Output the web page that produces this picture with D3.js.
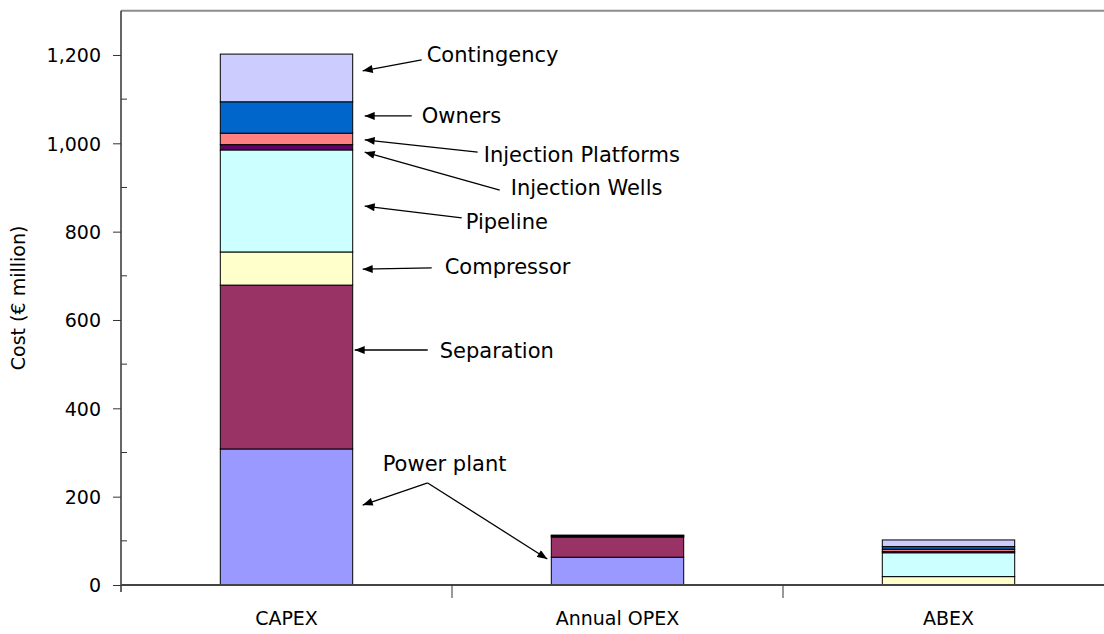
<!DOCTYPE html>
<html>
<head>
<meta charset="utf-8">
<script src="https://cdn.jsdelivr.net/npm/d3@7"></script>
<style>
  body { margin: 0; background: #fff; }
  text { font-family: "DejaVu Sans", Verdana, sans-serif; fill: #000; }
</style>
</head>
<body>
<div id="chart"></div>
<script>
// categories and stacked series (EUR million)
var categories = ["CAPEX", "Annual OPEX", "ABEX"];
var seriesNames = ["Power plant", "Separation", "Compressor", "Pipeline",
                   "Injection Wells", "Injection Platforms", "Owners", "Contingency"];
var powerPlant         = [308, 63, 0];
var separation         = [371, 45, 0];
var compressor         = [75, 2, 19];
var pipeline           = [231, 1, 54];
var injectionWells     = [12, 1, 3];
var injectionPlatforms = [26, 1, 5];
var owners             = [71, 0, 6];
var contingency        = [108, 0, 15];
var yTicks = [0, 200, 400, 600, 800, 1000, 1200];
var yMinorTicks = [100, 300, 500, 700, 900, 1100];

var colors = ["#9999ff", "#993366", "#ffffcc", "#ccffff",
              "#660066", "#ff8080", "#0066cc", "#ccccff"];

// annotations: label value, where the line leaves the label, where the arrow points
var notes = [
  {text: "Contingency",         label: 1202, from: 1189, to: 1164, lx: 74, fx: 69, tx: 10},
  {text: "Owners",              label: 1062, from: 1062, to: 1062, lx: 69, fx: 59, tx: 12},
  {text: "Injection Platforms", label: 974,  from: 980,  to: 1008, lx: 131, fx: 125, tx: 12},
  {text: "Injection Wells",     label: 899,  from: 894,  to: 980,  lx: 158, fx: 147, tx: 12},
  {text: "Pipeline",            label: 824,  from: 831,  to: 858,  lx: 113, fx: 109, tx: 12},
  {text: "Compressor",          label: 722,  from: 718,  to: 715,  lx: 92,  fx: 79,  tx: 10},
  {text: "Separation",          label: 532,  from: 532,  to: 532,  lx: 87,  fx: 75,  tx: 2}
];

var width = 1104, height = 634,
    margin = {top: 10.8, left: 121, bottom: 49},
    step = 331;

var rows = categories.map(function (c, i) {
  return {
    cat: c,
    "Power plant": powerPlant[i], "Separation": separation[i], "Compressor": compressor[i],
    "Pipeline": pipeline[i], "Injection Wells": injectionWells[i],
    "Injection Platforms": injectionPlatforms[i], "Owners": owners[i], "Contingency": contingency[i]
  };
});

var svg = d3.select("#chart").append("svg")
    .attr("width", width)
    .attr("height", height);

var x = d3.scaleBand().domain(categories)
    .range([margin.left, margin.left + step * categories.length])
    .paddingInner(0.6).paddingOuter(0.3);
var y = d3.scaleLinear().domain([0, 1300]).range([height - margin.bottom, margin.top]);

var stack = d3.stack().keys(seriesNames);
var layers = stack(rows);

svg.append("defs").append("marker")
    .attr("id", "arrow")
    .attr("viewBox", "0 0 10 8")
    .attr("refX", 10).attr("refY", 4)
    .attr("markerWidth", 11).attr("markerHeight", 8)
    .attr("markerUnits", "userSpaceOnUse")
    .attr("orient", "auto")
  .append("path")
    .attr("d", "M0,0 L10,4 L0,8 Z")
    .attr("fill", "#000");

// top frame line
svg.append("line")
    .attr("x1", margin.left).attr("x2", width)
    .attr("y1", y(1300)).attr("y2", y(1300))
    .attr("stroke", "#8c8c8c").attr("stroke-width", 2);

// bars
svg.append("g").selectAll("g")
  .data(layers)
  .enter().append("g")
    .attr("fill", function (d, i) { return colors[i]; })
  .selectAll("rect")
  .data(function (d) { return d; })
  .enter().append("rect")
    .attr("x", function (d) { return x(d.data.cat); })
    .attr("width", x.bandwidth())
    .attr("y", function (d) { return y(d[1]); })
    .attr("height", function (d) { return y(d[0]) - y(d[1]); })
    .attr("stroke", function (d) { return d[1] - d[0] > 0 ? "#000" : "none"; })
    .attr("stroke-width", 1);

// y axis
var yAxis = d3.axisLeft(y).tickValues(yTicks).tickSize(8).tickPadding(12)
    .tickFormat(d3.format(","));
var gy = svg.append("g")
    .attr("transform", "translate(" + margin.left + ",0)")
    .call(yAxis);
gy.select(".domain").remove();
gy.selectAll("line").attr("stroke", "#333");
gy.selectAll("text").style("font-size", "19px").attr("dy", "0.36em");

svg.append("g").selectAll("line")
  .data(yMinorTicks)
  .enter().append("line")
    .attr("x1", margin.left).attr("x2", margin.left + 6)
    .attr("y1", function (d) { return y(d); })
    .attr("y2", function (d) { return y(d); })
    .attr("stroke", "#333");

svg.append("line")
    .attr("x1", margin.left).attr("x2", margin.left)
    .attr("y1", y(1300)).attr("y2", y(0) + 7)
    .attr("stroke", "#333").attr("stroke-width", 1.5);

// x axis
svg.append("line")
    .attr("x1", margin.left).attr("x2", width)
    .attr("y1", y(0)).attr("y2", y(0))
    .attr("stroke", "#444").attr("stroke-width", 2);

svg.append("g").selectAll("line")
  .data(d3.range(1, categories.length + 1))
  .enter().append("line")
    .attr("x1", function (i) { return margin.left + i * step; })
    .attr("x2", function (i) { return margin.left + i * step; })
    .attr("y1", y(0)).attr("y2", y(0) + 13)
    .attr("stroke", "#333");

svg.append("g").selectAll("text")
  .data(categories)
  .enter().append("text")
    .attr("x", function (d) { return x(d) + x.bandwidth() / 2; })
    .attr("y", y(0) + 33)
    .attr("dy", "0.36em")
    .attr("text-anchor", "middle")
    .style("font-size", "19px")
    .text(function (d) { return d; });

// y title
svg.append("text")
    .attr("transform", "translate(25," + y(650) + ") rotate(-90)")
    .attr("text-anchor", "middle")
    .style("font-size", "19px")
    .text("Cost (€ million)");

// annotations
var capexRight = x("CAPEX") + x.bandwidth();
var ann = svg.append("g");

ann.selectAll("line")
  .data(notes)
  .enter().append("line")
    .attr("x1", function (d) { return capexRight + d.fx; })
    .attr("y1", function (d) { return y(d.from); })
    .attr("x2", function (d) { return capexRight + d.tx; })
    .attr("y2", function (d) { return y(d.to); })
    .attr("stroke", "#000").attr("stroke-width", 1.3)
    .attr("marker-end", "url(#arrow)");

ann.selectAll("text")
  .data(notes)
  .enter().append("text")
    .attr("x", function (d) { return capexRight + d.lx; })
    .attr("y", function (d) { return y(d.label); })
    .attr("dy", "0.36em")
    .style("font-size", "21px")
    .text(function (d) { return d.text; });

// power plant: one label, two arrows
var ppFrom = [capexRight + 75, y(231)];
ann.append("text")
    .attr("x", capexRight + 30)
    .attr("y", y(276))
    .attr("dy", "0.36em")
    .style("font-size", "21px")
    .text("Power plant");
ann.append("line")
    .attr("x1", ppFrom[0]).attr("y1", ppFrom[1])
    .attr("x2", capexRight + 10).attr("y2", y(181))
    .attr("stroke", "#000").attr("stroke-width", 1.3)
    .attr("marker-end", "url(#arrow)");
ann.append("line")
    .attr("x1", ppFrom[0]).attr("y1", ppFrom[1])
    .attr("x2", x("Annual OPEX") - 4).attr("y2", y(59))
    .attr("stroke", "#000").attr("stroke-width", 1.3)
    .attr("marker-end", "url(#arrow)");
</script>
</body>
</html>
